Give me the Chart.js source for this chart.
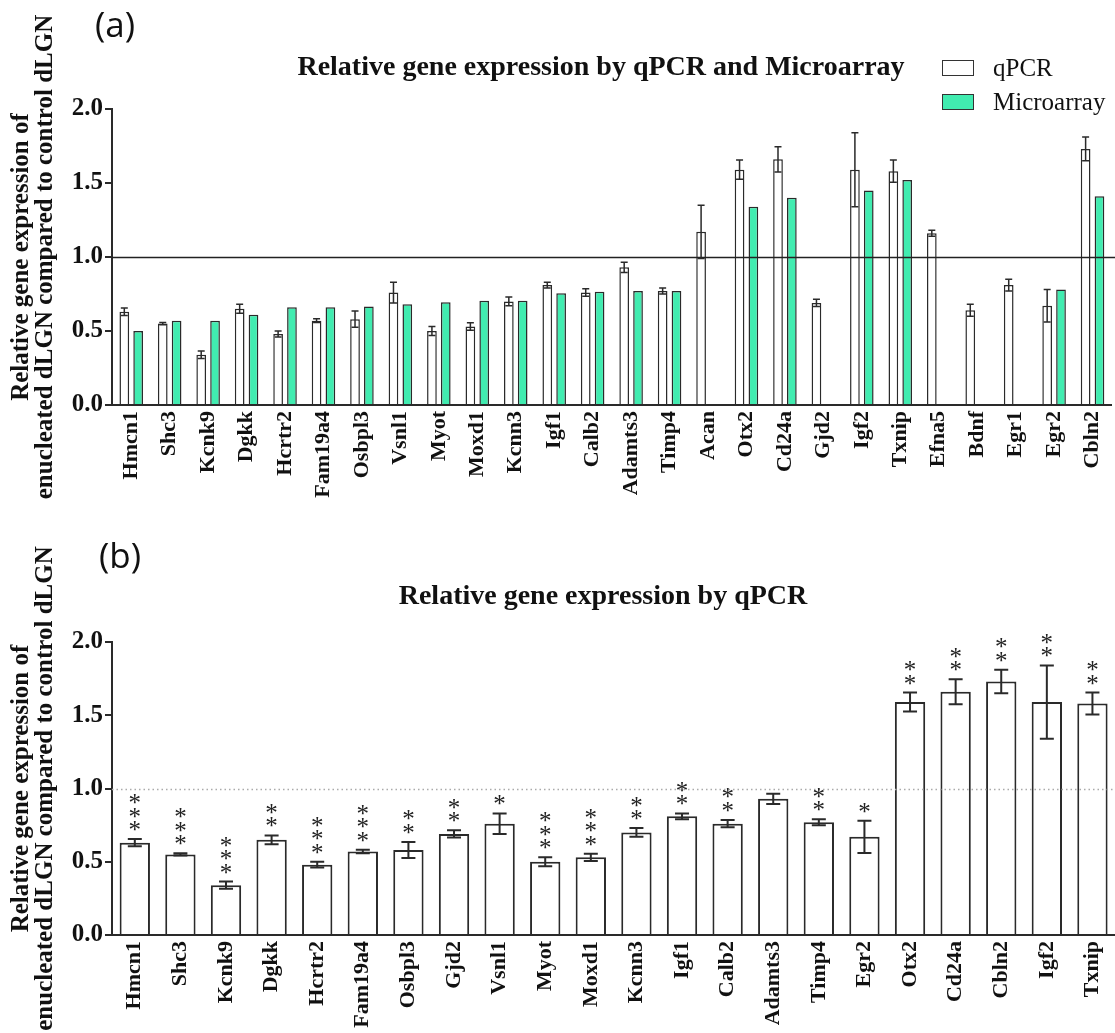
<!DOCTYPE html>
<html>
<head>
<meta charset="utf-8">
<title>Relative gene expression by qPCR and Microarray</title>
<script src="https://cdn.jsdelivr.net/npm/chart.js@4.4.1/dist/chart.umd.min.js"></script>
<style>
  html, body { margin: 0; padding: 0; background: #fff; }
  body {
    width: 1115px; height: 1033px; overflow: hidden; position: relative;
    font-family: "Liberation Serif", "Times New Roman", serif; color: #111;
  }
  .panel { position: absolute; left: 0; }
  #panelA { top: 0; }
  #panelB { top: 510px; }
  .tag { position: absolute; font-family: "Open Sans", sans-serif; font-size: 35px; line-height: 1; }
  .title {
    position: absolute; font-weight: bold; font-size: 28px; line-height: 28px;
    transform: translateX(-50%); white-space: nowrap;
  }
  .legend { position: absolute; left: 942px; top: 51px; font-size: 25px; }
  .legend .item { display: flex; align-items: center; height: 34px; }
  .legend .box { width: 30px; height: 14px; border: 1.5px solid #333; margin-right: 19px; }
</style>
</head>
<body>
<canvas id="panelA" class="panel" width="1125" height="510"></canvas>
<canvas id="panelB" class="panel" width="1125" height="523"></canvas>

<div class="tag" style="left:95px; top:6px;">(a)</div>
<div class="title" style="left:601px; top:52px;">Relative gene expression by qPCR and Microarray</div>
<div class="legend" id="legendA"></div>

<div class="tag" style="left:99px; top:537px;">(b)</div>
<div class="title" style="left:603px; top:581px;">Relative gene expression by qPCR</div>

<script>
// ---- data ----
const genesA = ["Hmcn1", "Shc3", "Kcnk9", "Dgkk", "Hcrtr2", "Fam19a4", "Osbpl3", "Vsnl1", "Myot",
  "Moxd1", "Kcnn3", "Igf1", "Calb2", "Adamts3", "Timp4", "Acan", "Otx2", "Cd24a", "Gjd2", "Igf2",
  "Txnip", "Efna5", "Bdnf", "Egr1", "Egr2", "Cbln2"];
const qpcrA = [0.63, 0.55, 0.34, 0.65, 0.48, 0.57, 0.58, 0.76, 0.50, 0.53, 0.70, 0.81, 0.76, 0.93,
  0.77, 1.17, 1.59, 1.66, 0.69, 1.59, 1.58, 1.16, 0.64, 0.81, 0.67, 1.73];
const qpcrErrA = [0.025, 0.008, 0.025, 0.03, 0.02, 0.012, 0.055, 0.07, 0.03, 0.025, 0.03, 0.02, 0.025,
  0.035, 0.02, 0.18, 0.065, 0.085, 0.025, 0.25, 0.075, 0.02, 0.04, 0.04, 0.11, 0.08];
const microA = [0.50, 0.57, 0.57, 0.61, 0.66, 0.66, 0.665, 0.68, 0.695, 0.705, 0.705, 0.755, 0.765,
  0.77, 0.77, null, 1.34, 1.40, null, 1.45, 1.52, null, null, null, 0.78, 1.41];

const genesB = ["Hmcn1", "Shc3", "Kcnk9", "Dgkk", "Hcrtr2", "Fam19a4", "Osbpl3", "Gjd2", "Vsnl1",
  "Myot", "Moxd1", "Kcnn3", "Igf1", "Calb2", "Adamts3", "Timp4", "Egr2", "Otx2", "Cd24a", "Cbln2",
  "Igf2", "Txnip"];
const qpcrB = [0.63, 0.55, 0.34, 0.65, 0.48, 0.57, 0.58, 0.69, 0.76, 0.50, 0.53, 0.70, 0.81, 0.76,
  0.93, 0.77, 0.67, 1.59, 1.66, 1.73, 1.59, 1.58];
const qpcrErrB = [0.025, 0.008, 0.025, 0.03, 0.02, 0.012, 0.055, 0.025, 0.07, 0.03, 0.025, 0.03, 0.02,
  0.025, 0.035, 0.02, 0.11, 0.065, 0.085, 0.08, 0.25, 0.075];
const starsB = [3, 3, 3, 2, 3, 3, 2, 2, 1, 3, 3, 2, 2, 2, 0, 2, 1, 2, 2, 2, 2, 2];

const yTicks = [0, 0.5, 1.0, 1.5, 2.0];
const refLevel = 1.0;
const yTitle = ["Relative gene expression of", "enucleated dLGN compared to control dLGN"];

// ---- styling ----
const SERIF = '"Liberation Serif", "Times New Roman", serif';
const INK = "#111";
const EDGE = "#2a2a2a";
const GREEN = "#41ecb0";

// error bars + significance stars, drawn from the dataset values through the y scale
const errorBars = {
  id: "errorBars",
  afterDatasetsDraw(chart, args, opts) {
    const { ctx } = chart;
    const y = chart.scales.y;
    chart.data.datasets.forEach((ds, i) => {
      if (!ds.errors) return;
      const meta = chart.getDatasetMeta(i);
      meta.data.forEach((bar, j) => {
        const v = ds.data[j];
        const e = ds.errors[j];
        if (v == null || e == null) return;
        const top = y.getPixelForValue(v + e);
        const bot = y.getPixelForValue(v - e);
        const half = opts.cap / 2;
        ctx.save();
        ctx.strokeStyle = EDGE;
        ctx.lineWidth = opts.width;
        ctx.beginPath();
        ctx.moveTo(bar.x, top);
        ctx.lineTo(bar.x, bot);
        ctx.moveTo(bar.x - half, top);
        ctx.lineTo(bar.x + half, top);
        ctx.moveTo(bar.x - half, bot);
        ctx.lineTo(bar.x + half, bot);
        ctx.stroke();
        const n = ds.stars ? ds.stars[j] : 0;
        if (n) {
          ctx.fillStyle = "#222";
          ctx.font = "25px " + SERIF;
          ctx.textAlign = "center";
          ctx.textBaseline = "alphabetic";
          for (let k = 0; k < n; k++) {
            const cy = top - 14 - k * 13.5;
            ctx.fillText("*", bar.x, cy + 13);
          }
        }
        ctx.restore();
      });
    });
  }
};

// horizontal reference line at y = 1.0, running from the y axis to the right edge
const refLine = {
  id: "refLine",
  afterDatasetsDraw(chart, args, opts) {
    const { ctx, chartArea } = chart;
    const yy = Math.round(chart.scales.y.getPixelForValue(opts.value)) + 0.5;
    ctx.save();
    ctx.strokeStyle = opts.color;
    ctx.lineWidth = opts.width;
    ctx.setLineDash(opts.dash || []);
    ctx.beginPath();
    ctx.moveTo(chartArea.left, yy);
    ctx.lineTo(chart.width, yy);
    ctx.stroke();
    ctx.restore();
  }
};

function scalesFor(xHeight) {
  return {
    x: {
      offset: true,
      ticks: {
        autoSkip: false, maxRotation: 90, minRotation: 90, padding: 6,
        color: INK, font: { family: SERIF, size: 22, weight: "bold" }
      },
      grid: { display: false, drawTicks: false },
      border: { display: true, color: EDGE, width: 2 },
      afterFit: (s) => { s.height = xHeight; }
    },
    y: {
      min: 0, max: 2,
      afterBuildTicks: (s) => { s.ticks = yTicks.map((v) => ({ value: v })); },
      ticks: {
        padding: 2, color: INK,
        font: { family: SERIF, size: 25, weight: "bold" },
        callback: (v) => Number(v).toFixed(1)
      },
      grid: { display: true, drawOnChartArea: false, drawTicks: true, tickLength: 7, color: EDGE, lineWidth: 2 },
      border: { display: true, color: EDGE, width: 2 },
      title: {
        display: true, text: yTitle, color: INK,
        font: { family: SERIF, size: 25, weight: "bold", lineHeight: 0.96 },
        padding: { top: 10, bottom: 0 }
      },
      afterFit: (s) => { s.width = 112; }
    }
  };
}

const chartA = new Chart(document.getElementById("panelA"), {
  type: "bar",
  data: {
    labels: genesA,
    datasets: [
      {
        label: "qPCR", data: qpcrA, errors: qpcrErrA,
        backgroundColor: "#fff", borderColor: EDGE, borderWidth: 1.5,
        categoryPercentage: 0.72, barPercentage: 0.7
      },
      {
        label: "Microarray", data: microA,
        backgroundColor: GREEN, borderColor: EDGE, borderWidth: 1.5,
        categoryPercentage: 0.72, barPercentage: 0.7
      }
    ]
  },
  options: {
    responsive: false,
    animation: false,
    layout: { padding: { top: 109, right: 3, left: 0, bottom: 0 } },
    plugins: {
      legend: { display: false },
      tooltip: { enabled: false },
      refLine: { value: refLevel, color: "#222", width: 1.5 },
      errorBars: { cap: 7, width: 1.5 }
    },
    scales: scalesFor(105)
  },
  plugins: [refLine, errorBars]
});

const chartB = new Chart(document.getElementById("panelB"), {
  type: "bar",
  data: {
    labels: genesB,
    datasets: [
      {
        label: "qPCR", data: qpcrB, errors: qpcrErrB, stars: starsB,
        backgroundColor: "#fff", borderColor: EDGE, borderWidth: 2,
        categoryPercentage: 1.0, barPercentage: 0.665
      }
    ]
  },
  options: {
    responsive: false,
    animation: false,
    layout: { padding: { top: 132, right: 7, left: 0, bottom: 0 } },
    plugins: {
      legend: { display: false },
      tooltip: { enabled: false },
      refLine: { value: refLevel, color: "#aaa", width: 1.5, dash: [1.5, 3] },
      errorBars: { cap: 14, width: 2 }
    },
    scales: scalesFor(98)
  },
  plugins: [refLine, errorBars]
});

// legend for panel (a), built from the chart's datasets
const legendEl = document.getElementById("legendA");
chartA.data.datasets.forEach((ds) => {
  const item = document.createElement("div");
  item.className = "item";
  const box = document.createElement("span");
  box.className = "box";
  box.style.background = ds.backgroundColor;
  item.appendChild(box);
  item.appendChild(document.createTextNode(ds.label));
  legendEl.appendChild(item);
});
</script>
</body>
</html>
